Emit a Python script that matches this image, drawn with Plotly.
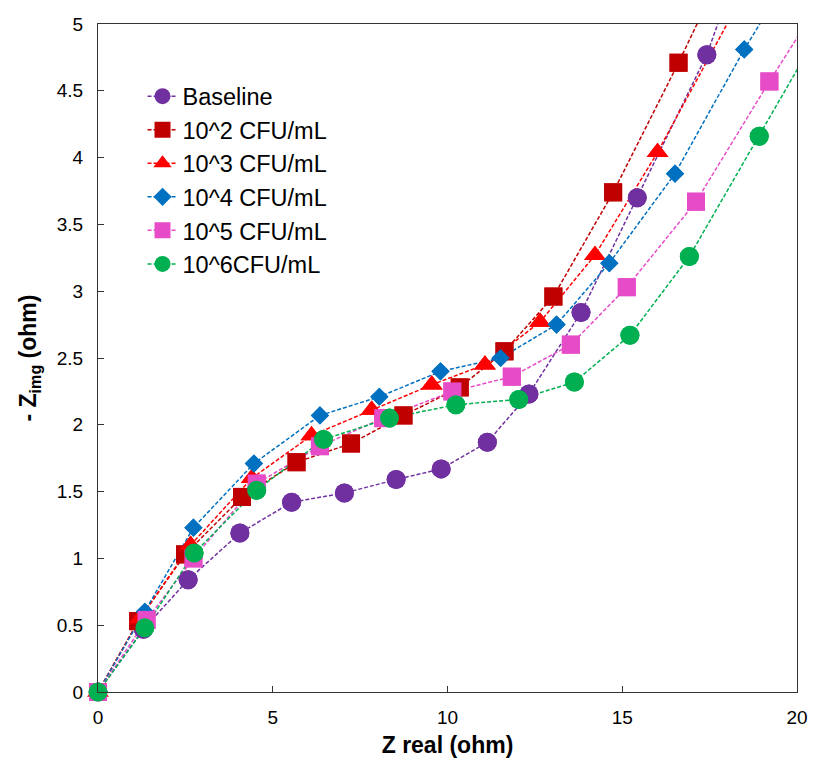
import plotly.graph_objects as go

# Series data (Z real, -Z img) in ohm
base_x = [0, 1.30, 2.58, 4.06, 5.54, 7.05, 8.53, 9.82, 11.14, 12.33, 13.82, 15.43, 17.42, 19.40]
base_y = [0, 0.47, 0.84, 1.19, 1.42, 1.49, 1.59, 1.67, 1.87, 2.23, 2.84, 3.70, 4.77, 6.23]

c2_x = [0, 1.15, 2.49, 4.12, 5.68, 7.24, 8.74, 10.35, 11.63, 13.03, 14.74, 16.61, 18.60]
c2_y = [0, 0.53, 1.03, 1.46, 1.72, 1.86, 2.07, 2.28, 2.55, 2.96, 3.74, 4.71, 5.80]

c3_x = [0, 1.20, 2.65, 4.40, 6.11, 7.83, 9.55, 11.07, 12.65, 14.22, 16.01, 18.60]
c3_y = [0, 0.55, 1.10, 1.60, 1.92, 2.11, 2.30, 2.45, 2.77, 3.27, 4.04, 5.29]

c4_x = [0, 1.34, 2.73, 4.46, 6.35, 8.05, 9.80, 11.52, 13.12, 14.63, 16.51, 18.49, 20.50]
c4_y = [0, 0.60, 1.23, 1.71, 2.07, 2.21, 2.40, 2.50, 2.75, 3.21, 3.88, 4.81, 5.67]

c5_x = [0, 1.39, 2.73, 4.54, 6.35, 8.16, 10.14, 11.84, 13.53, 15.13, 17.11, 19.21, 21.20]
c5_y = [0, 0.54, 1.00, 1.56, 1.84, 2.05, 2.25, 2.36, 2.60, 3.03, 3.67, 4.57, 5.39]

c6_x = [0, 1.34, 2.75, 4.54, 6.45, 8.34, 10.24, 12.04, 13.63, 15.22, 16.92, 18.92, 21.00]
c6_y = [0, 0.48, 1.04, 1.51, 1.89, 2.05, 2.15, 2.19, 2.32, 2.67, 3.26, 4.16, 5.11]

names = ["Baseline", "10^2 CFU/mL", "10^3 CFU/mL", "10^4 CFU/mL", "10^5 CFU/mL", "10^6CFU/mL"]
xs = [base_x, c2_x, c3_x, c4_x, c5_x, c6_x]
ys = [base_y, c2_y, c3_y, c4_y, c5_y, c6_y]
colors = ["#7030A0", "#C00000", "#FF0000", "#0070C0", "#E64BC8", "#00B050"]
symbols = ["circle", "square", "triangle-up", "diamond", "square", "circle"]
sizes = [19, 18, 19, 14, 18, 19]

x_ticks = [0, 5, 10, 15, 20]
y_ticks = [0, 0.5, 1, 1.5, 2, 2.5, 3, 3.5, 4, 4.5, 5]
y_tick_labels = ["0", "0.5", "1", "1.5", "2", "2.5", "3", "3.5", "4", "4.5", "5"]

X_MAX, Y_MAX = 20, 5

fig = go.Figure()
for i, (n, x, y, c, s, sz) in enumerate(zip(names, xs, ys, colors, symbols, sizes)):
    fig.add_trace(go.Scatter(
        x=x, y=y, name=n, mode="lines+markers", legendgroup="g%d" % i,
        line=dict(color=c, width=1.5, dash="4px,2px"),
        marker=dict(symbol=s, size=sz, color=c, line=dict(width=0)),
        cliponaxis=True,
    ))
# unclipped markers for the points inside the visible range
for n, x, y, c, s, sz in zip(names, xs, ys, colors, symbols, sizes):
    px = [a for a, b in zip(x, y) if a <= X_MAX and b <= Y_MAX]
    py = [b for a, b in zip(x, y) if a <= X_MAX and b <= Y_MAX]
    fig.add_trace(go.Scatter(
        x=px, y=py, mode="markers", showlegend=False, hoverinfo="skip",
        marker=dict(symbol=s, size=sz, color=c, line=dict(width=0)),
        cliponaxis=False,
    ))

font = "Liberation Sans, Arial, sans-serif"
fig.update_layout(
    width=801, height=755,
    margin=dict(l=90, r=12, t=16, b=71, autoexpand=False),
    paper_bgcolor="white", plot_bgcolor="white",
    font=dict(family=font, size=19, color="#000000"),
    showlegend=True,
    legend=dict(
        x=0.0637, y=0.9246, xanchor="left", yanchor="top",
        font=dict(family=font, size=23.5, color="#000000"),
        bgcolor="rgba(0,0,0,0)", tracegroupgap=0,
        itemsizing="trace",
    ),
    xaxis=dict(
        range=[0, X_MAX], tickvals=x_ticks, showgrid=False, zeroline=False,
        automargin=False,
        showline=True, linecolor="#333333", linewidth=1.3, mirror=True,
        ticks="inside", ticklen=6, tickcolor="#333333", ticklabelstandoff=8,
        title=dict(text="<b>Z real (ohm)</b>", font=dict(size=23), standoff=9),
        tickfont=dict(size=19),
    ),
    yaxis=dict(
        range=[0, Y_MAX], tickvals=y_ticks, ticktext=y_tick_labels,
        showgrid=False, zeroline=False, automargin=False,
        showline=True, linecolor="#333333", linewidth=1.3, mirror=True,
        ticks="inside", ticklen=6, tickcolor="#333333", ticklabelstandoff=10,
        title=dict(text="<b>- Z<sub>img</sub> (ohm)</b>", font=dict(size=23), standoff=13),
        tickfont=dict(size=19),
    ),
)

fig.write_html("out.html")
